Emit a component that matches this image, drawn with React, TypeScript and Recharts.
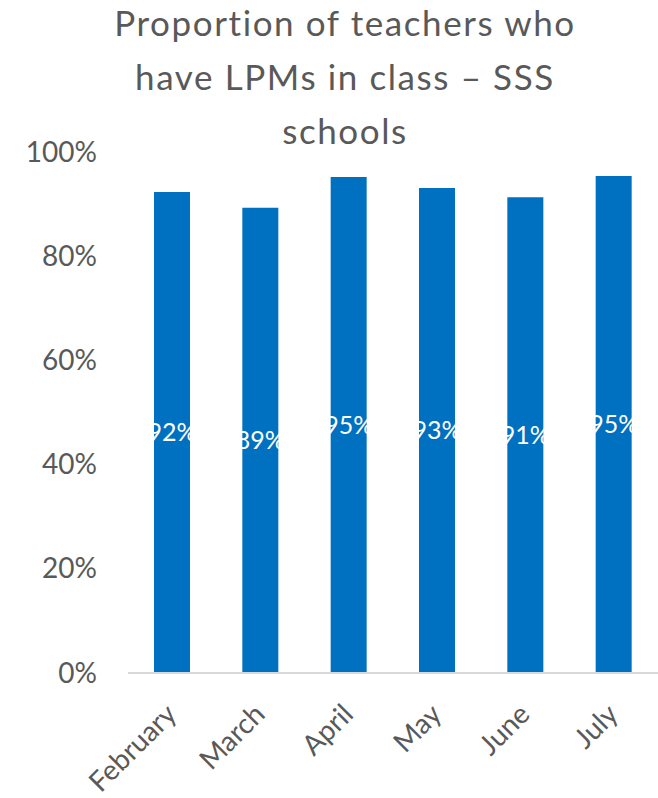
import React from 'react';
import { BarChart, Bar, XAxis, YAxis, LabelList } from 'recharts';

const months = ['February', 'March', 'April', 'May', 'June', 'July'];
const shareWithLPMs = [0.923, 0.893, 0.952, 0.931, 0.913, 0.954];
const yTicks = [0, 0.2, 0.4, 0.6, 0.8, 1];
const titleLines = ['Proportion of teachers who', 'have LPMs in class – SSS', 'schools'];

const data = months.map((m, i) => ({ month: m, value: shareWithLPMs[i] }));

const FONT = 'Lato, "Open Sans", sans-serif';
const GRAY = '#595959';

const pct = (v: number) => `${Math.round(v * 100)}%`;

const YTick = (props: any) => {
  const { y, payload } = props;
  return (
    <text x={97} y={y} dy="0.34em" textAnchor="end" fill={GRAY} fontSize={28} fontFamily={FONT}>
      {pct(payload.value)}
    </text>
  );
};

const XTick = (props: any) => {
  const { x, y, payload } = props;
  return (
    <text
      transform={`translate(${x + 6},${y + 35}) rotate(-45)`}
      textAnchor="end"
      fill={GRAY}
      fontSize={28}
      fontFamily={FONT}
    >
      {payload.value}
    </text>
  );
};

export default function App() {
  return (
    <div style={{ position: 'absolute', left: 0, top: 0, width: 658, height: 798, background: '#fff' }}>
      <BarChart
        width={658}
        height={798}
        data={data}
        margin={{ top: 152, right: 0, bottom: 0, left: 0 }}
      >
        <XAxis
          dataKey="month"
          height={125}
          interval={0}
          axisLine={{ stroke: '#D9D9D9', strokeWidth: 2 }}
          tickLine={false}
          tick={<XTick />}
        />
        <YAxis
          width={128}
          domain={[0, 1]}
          ticks={yTicks}
          axisLine={false}
          tickLine={false}
          tick={<YTick />}
        />
        <Bar dataKey="value" fill="#0070C0" barSize={36} isAnimationActive={false}>
          <LabelList
            dataKey="value"
            position="center"
            formatter={(v: any) => pct(Number(v))}
            fill="#FFFFFF"
            fontSize={25}
            fontFamily={FONT}
          />
        </Bar>
      </BarChart>
      <svg
        width={658}
        height={160}
        style={{ position: 'absolute', left: 0, top: 0, pointerEvents: 'none' }}
      >
        {titleLines.map((line, i) => (
          <text
            key={i}
            x={345}
            y={36 + i * 54}
            textAnchor="middle"
            fill={GRAY}
            fontSize={35}
            fontFamily={FONT}
            letterSpacing={1.6}
          >
            {line}
          </text>
        ))}
      </svg>
    </div>
  );
}
